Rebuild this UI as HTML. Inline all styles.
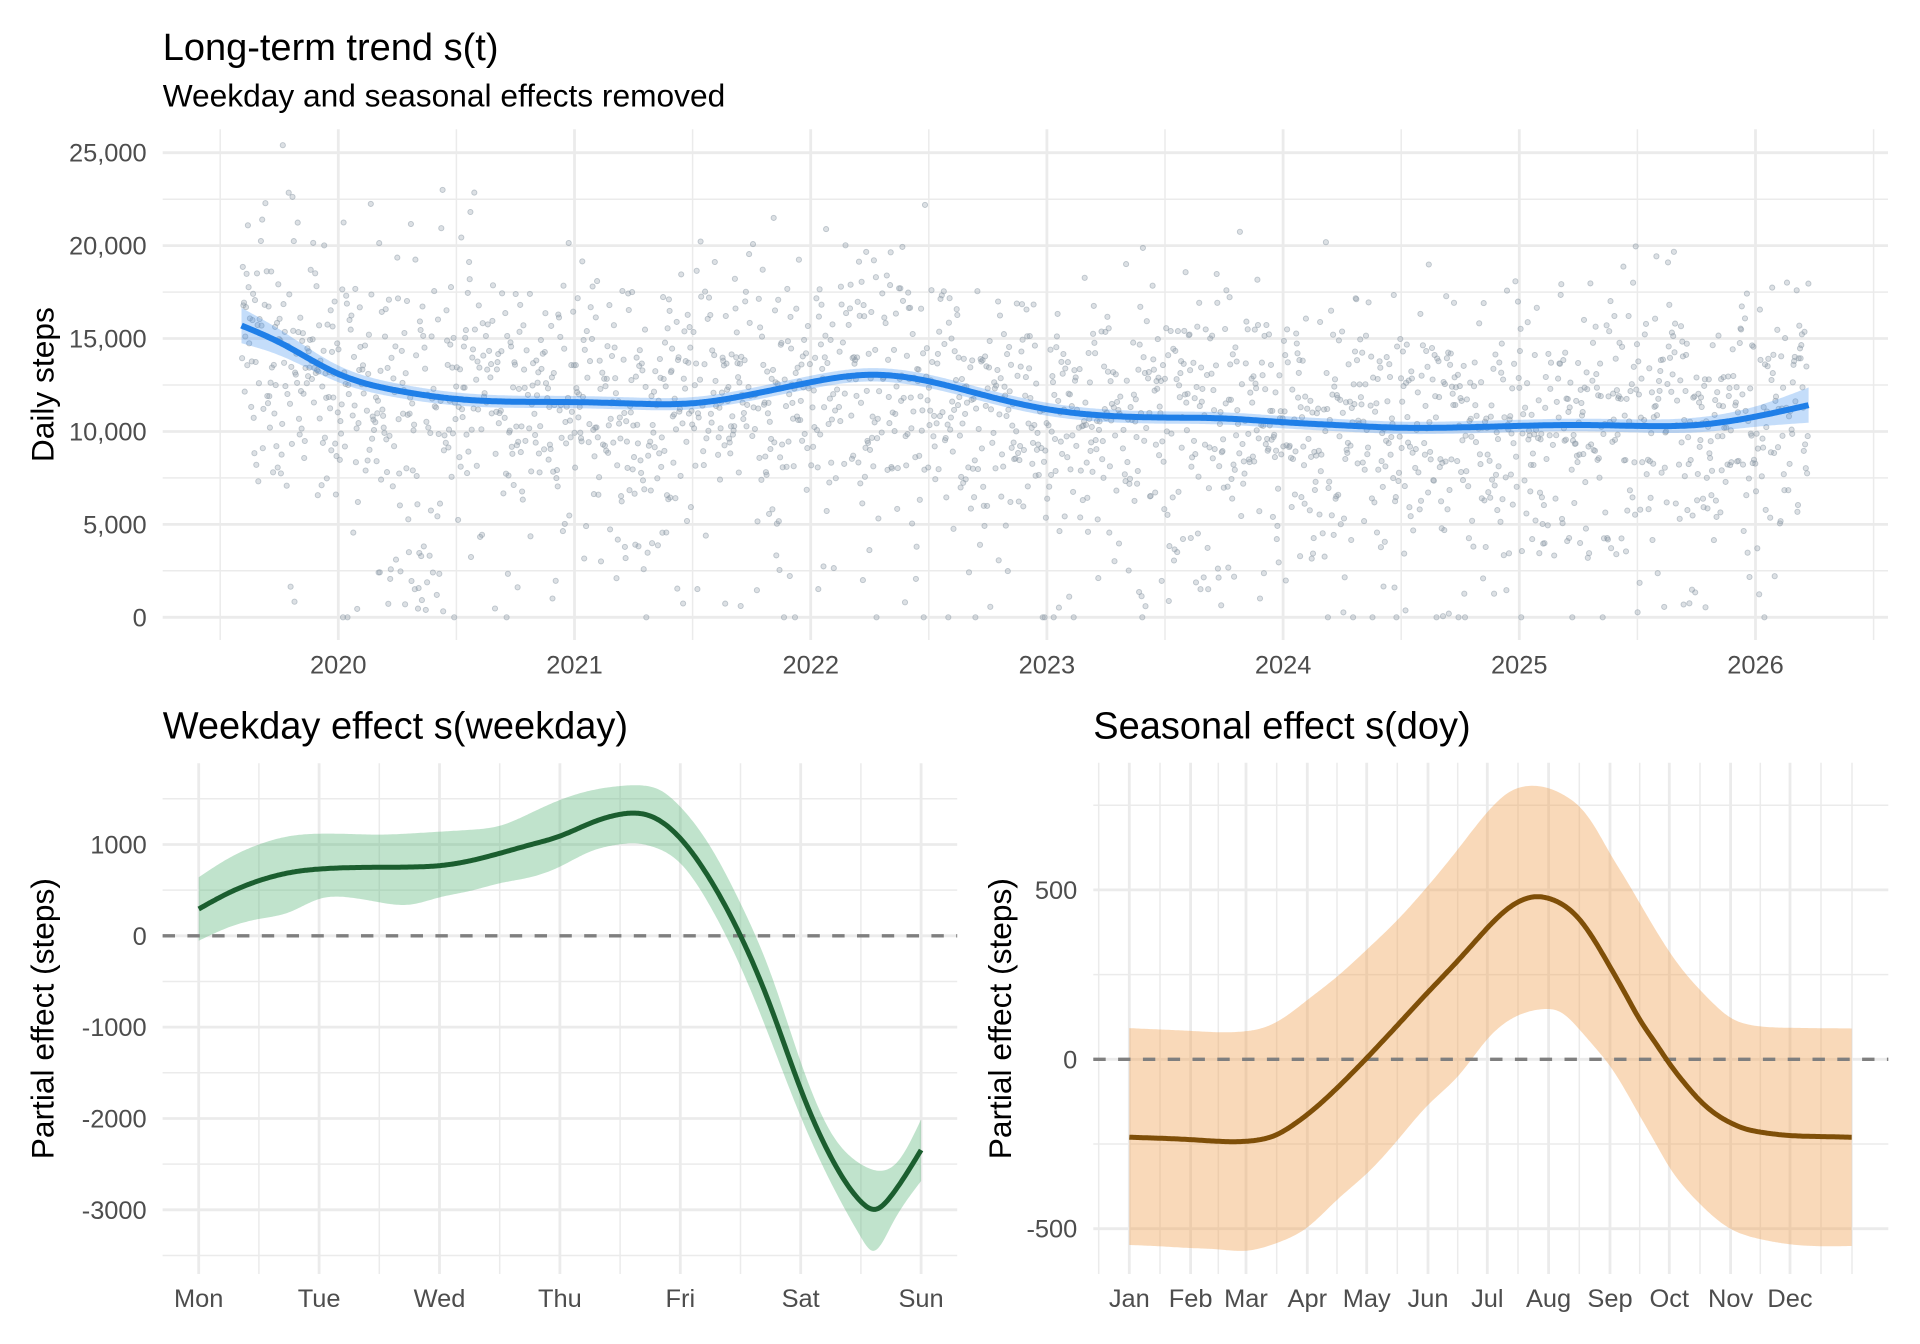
<!DOCTYPE html>
<html>
<head>
<meta charset="utf-8">
<style>
  html,body{margin:0;padding:0;background:#fff;}
  body{width:1920px;height:1344px;overflow:hidden;}
  svg{display:block;font-family:"Liberation Sans",Arial,sans-serif;}
  .gM{stroke:#ebebeb;stroke-width:2.8;fill:none;}
  .gm{stroke:#ebebeb;stroke-width:1.5;fill:none;}
  .tk{font-size:25.4px;fill:#4d4d4d;}
  .ttl{font-size:38px;fill:#000;}
  .sub{font-size:31.7px;fill:#000;}
  .axt{font-size:31.7px;fill:#000;}
</style>
</head>
<body>
<svg id="s" width="1920" height="1344" viewBox="0 0 1920 1344" xmlns="http://www.w3.org/2000/svg">
<rect width="1920" height="1344" fill="#fff"/>

<!-- ================= TOP PANEL ================= -->
<g>
  <line class="gm" x1="162.7" x2="1888" y1="570.8" y2="570.8"/>
  <line class="gm" x1="162.7" x2="1888" y1="477.9" y2="477.9"/>
  <line class="gm" x1="162.7" x2="1888" y1="385.0" y2="385.0"/>
  <line class="gm" x1="162.7" x2="1888" y1="292.1" y2="292.1"/>
  <line class="gm" x1="162.7" x2="1888" y1="199.2" y2="199.2"/>
  <line class="gm" y1="129.3" y2="640" x1="220.2" x2="220.2"/>
  <line class="gm" y1="129.3" y2="640" x1="456.4" x2="456.4"/>
  <line class="gm" y1="129.3" y2="640" x1="692.6" x2="692.6"/>
  <line class="gm" y1="129.3" y2="640" x1="928.8" x2="928.8"/>
  <line class="gm" y1="129.3" y2="640" x1="1165.0" x2="1165.0"/>
  <line class="gm" y1="129.3" y2="640" x1="1401.2" x2="1401.2"/>
  <line class="gm" y1="129.3" y2="640" x1="1637.4" x2="1637.4"/>
  <line class="gm" y1="129.3" y2="640" x1="1873.6" x2="1873.6"/>
  <line class="gM" x1="162.7" x2="1888" y1="617.3" y2="617.3"/>
  <line class="gM" x1="162.7" x2="1888" y1="524.4" y2="524.4"/>
  <line class="gM" x1="162.7" x2="1888" y1="431.5" y2="431.5"/>
  <line class="gM" x1="162.7" x2="1888" y1="338.5" y2="338.5"/>
  <line class="gM" x1="162.7" x2="1888" y1="245.6" y2="245.6"/>
  <line class="gM" x1="162.7" x2="1888" y1="152.7" y2="152.7"/>
  <line class="gM" y1="129.3" y2="640" x1="338.3" x2="338.3"/>
  <line class="gM" y1="129.3" y2="640" x1="574.5" x2="574.5"/>
  <line class="gM" y1="129.3" y2="640" x1="810.7" x2="810.7"/>
  <line class="gM" y1="129.3" y2="640" x1="1046.9" x2="1046.9"/>
  <line class="gM" y1="129.3" y2="640" x1="1283.1" x2="1283.1"/>
  <line class="gM" y1="129.3" y2="640" x1="1519.3" x2="1519.3"/>
  <line class="gM" y1="129.3" y2="640" x1="1755.5" x2="1755.5"/>
</g>
<g id="pts" fill="#8c99a6" fill-opacity="0.3" stroke="#8c99a6" stroke-opacity="0.5" stroke-width="0.9"></g>
<path id="trendRib" fill="#3b8eee" fill-opacity="0.3" stroke="none"/>
<path id="trendLine" fill="none" stroke="#1f7fe8" stroke-width="6"/>

<text class="ttl" x="162.7" y="60">Long-term trend s(t)</text>
<text class="sub" x="162.7" y="106.7">Weekday and seasonal effects removed</text>

<g class="tk" text-anchor="end">
  <text x="146.7" y="161.7">25,000</text>
  <text x="146.7" y="254.6">20,000</text>
  <text x="146.7" y="347.5">15,000</text>
  <text x="146.7" y="440.5">10,000</text>
  <text x="146.7" y="533.4">5,000</text>
  <text x="146.7" y="626.3">0</text>
</g>
<g class="tk" text-anchor="middle">
  <text x="338.3" y="673.3">2020</text>
  <text x="574.5" y="673.3">2021</text>
  <text x="810.7" y="673.3">2022</text>
  <text x="1046.9" y="673.3">2023</text>
  <text x="1283.1" y="673.3">2024</text>
  <text x="1519.3" y="673.3">2025</text>
  <text x="1755.5" y="673.3">2026</text>
</g>
<text class="axt" text-anchor="middle" transform="translate(53.5,384.7) rotate(-90)">Daily steps</text>

<!-- ================= WEEKDAY PANEL ================= -->
<g>
  <line class="gm" x1="162.6" x2="957.2" y1="798.8" y2="798.8"/>
  <line class="gm" x1="162.6" x2="957.2" y1="890.1" y2="890.1"/>
  <line class="gm" x1="162.6" x2="957.2" y1="981.5" y2="981.5"/>
  <line class="gm" x1="162.6" x2="957.2" y1="1072.8" y2="1072.8"/>
  <line class="gm" x1="162.6" x2="957.2" y1="1164.1" y2="1164.1"/>
  <line class="gm" x1="162.6" x2="957.2" y1="1255.5" y2="1255.5"/>
  <line class="gm" y1="763.3" y2="1274" x1="258.9" x2="258.9"/>
  <line class="gm" y1="763.3" y2="1274" x1="379.3" x2="379.3"/>
  <line class="gm" y1="763.3" y2="1274" x1="499.7" x2="499.7"/>
  <line class="gm" y1="763.3" y2="1274" x1="620.1" x2="620.1"/>
  <line class="gm" y1="763.3" y2="1274" x1="740.5" x2="740.5"/>
  <line class="gm" y1="763.3" y2="1274" x1="860.9" x2="860.9"/>
  <line class="gM" x1="162.6" x2="957.2" y1="844.5" y2="844.5"/>
  <line class="gM" x1="162.6" x2="957.2" y1="935.8" y2="935.8"/>
  <line class="gM" x1="162.6" x2="957.2" y1="1027.1" y2="1027.1"/>
  <line class="gM" x1="162.6" x2="957.2" y1="1118.5" y2="1118.5"/>
  <line class="gM" x1="162.6" x2="957.2" y1="1209.8" y2="1209.8"/>
  <line class="gM" y1="763.3" y2="1274" x1="198.7" x2="198.7"/>
  <line class="gM" y1="763.3" y2="1274" x1="319.1" x2="319.1"/>
  <line class="gM" y1="763.3" y2="1274" x1="439.5" x2="439.5"/>
  <line class="gM" y1="763.3" y2="1274" x1="559.9" x2="559.9"/>
  <line class="gM" y1="763.3" y2="1274" x1="680.3" x2="680.3"/>
  <line class="gM" y1="763.3" y2="1274" x1="800.7" x2="800.7"/>
  <line class="gM" y1="763.3" y2="1274" x1="921.1" x2="921.1"/>
</g>
<path id="wkRib" fill="#4baf6d" fill-opacity="0.35" stroke="none"/>
<line x1="162.6" x2="957.2" y1="935.8" y2="935.8" stroke="#7f7f7f" stroke-width="3.3" stroke-dasharray="12.4 12.4"/>
<path id="wkLine" fill="none" stroke="#1b5e2f" stroke-width="5"/>

<text class="ttl" x="162.7" y="738.3">Weekday effect s(weekday)</text>
<g class="tk" text-anchor="end">
  <text x="146.7" y="853.5">1000</text>
  <text x="146.7" y="944.8">0</text>
  <text x="146.7" y="1036.1">-1000</text>
  <text x="146.7" y="1127.5">-2000</text>
  <text x="146.7" y="1218.8">-3000</text>
</g>
<g class="tk" text-anchor="middle">
  <text x="198.7" y="1307">Mon</text>
  <text x="319.1" y="1307">Tue</text>
  <text x="439.5" y="1307">Wed</text>
  <text x="559.9" y="1307">Thu</text>
  <text x="680.3" y="1307">Fri</text>
  <text x="800.7" y="1307">Sat</text>
  <text x="921.1" y="1307">Sun</text>
</g>
<text class="axt" text-anchor="middle" transform="translate(53.5,1018.7) rotate(-90)">Partial effect (steps)</text>

<!-- ================= SEASONAL PANEL ================= -->
<g>
  <line class="gm" x1="1093.3" x2="1888.3" y1="805.2" y2="805.2"/>
  <line class="gm" x1="1093.3" x2="1888.3" y1="974.6" y2="974.6"/>
  <line class="gm" x1="1093.3" x2="1888.3" y1="1144.0" y2="1144.0"/>
  <line class="gm" y1="762.7" y2="1274" x1="1098.7" x2="1098.7"/>
  <line class="gm" y1="762.7" y2="1274" x1="1160.0" x2="1160.0"/>
  <line class="gm" y1="762.7" y2="1274" x1="1218.3" x2="1218.3"/>
  <line class="gm" y1="762.7" y2="1274" x1="1276.7" x2="1276.7"/>
  <line class="gm" y1="762.7" y2="1274" x1="1337.0" x2="1337.0"/>
  <line class="gm" y1="762.7" y2="1274" x1="1397.3" x2="1397.3"/>
  <line class="gm" y1="762.7" y2="1274" x1="1457.7" x2="1457.7"/>
  <line class="gm" y1="762.7" y2="1274" x1="1518.0" x2="1518.0"/>
  <line class="gm" y1="762.7" y2="1274" x1="1579.3" x2="1579.3"/>
  <line class="gm" y1="762.7" y2="1274" x1="1639.7" x2="1639.7"/>
  <line class="gm" y1="762.7" y2="1274" x1="1700.0" x2="1700.0"/>
  <line class="gm" y1="762.7" y2="1274" x1="1760.3" x2="1760.3"/>
  <line class="gm" y1="762.7" y2="1274" x1="1821.0" x2="1821.0"/>
  <line class="gm" y1="762.7" y2="1274" x1="1852.0" x2="1852.0"/>
  <line class="gM" x1="1093.3" x2="1888.3" y1="889.9" y2="889.9"/>
  <line class="gM" x1="1093.3" x2="1888.3" y1="1059.3" y2="1059.3"/>
  <line class="gM" x1="1093.3" x2="1888.3" y1="1228.7" y2="1228.7"/>
  <line class="gM" y1="762.7" y2="1274" x1="1129.3" x2="1129.3"/>
  <line class="gM" y1="762.7" y2="1274" x1="1190.6" x2="1190.6"/>
  <line class="gM" y1="762.7" y2="1274" x1="1246.0" x2="1246.0"/>
  <line class="gM" y1="762.7" y2="1274" x1="1307.3" x2="1307.3"/>
  <line class="gM" y1="762.7" y2="1274" x1="1366.7" x2="1366.7"/>
  <line class="gM" y1="762.7" y2="1274" x1="1428.0" x2="1428.0"/>
  <line class="gM" y1="762.7" y2="1274" x1="1487.3" x2="1487.3"/>
  <line class="gM" y1="762.7" y2="1274" x1="1548.6" x2="1548.6"/>
  <line class="gM" y1="762.7" y2="1274" x1="1610.0" x2="1610.0"/>
  <line class="gM" y1="762.7" y2="1274" x1="1669.3" x2="1669.3"/>
  <line class="gM" y1="762.7" y2="1274" x1="1730.6" x2="1730.6"/>
  <line class="gM" y1="762.7" y2="1274" x1="1790.0" x2="1790.0"/>
</g>
<path id="seRib" fill="#f0a050" fill-opacity="0.4" stroke="none"/>
<line x1="1093.3" x2="1888.3" y1="1059.3" y2="1059.3" stroke="#7f7f7f" stroke-width="3.3" stroke-dasharray="12.4 12.4"/>
<path id="seLine" fill="none" stroke="#7f4f08" stroke-width="5"/>

<text class="ttl" x="1093.3" y="738.3">Seasonal effect s(doy)</text>
<g class="tk" text-anchor="end">
  <text x="1077.3" y="898.9">500</text>
  <text x="1077.3" y="1068.3">0</text>
  <text x="1077.3" y="1237.7">-500</text>
</g>
<g class="tk" text-anchor="middle">
  <text x="1129.3" y="1307">Jan</text>
  <text x="1190.6" y="1307">Feb</text>
  <text x="1246.0" y="1307">Mar</text>
  <text x="1307.3" y="1307">Apr</text>
  <text x="1366.7" y="1307">May</text>
  <text x="1428.0" y="1307">Jun</text>
  <text x="1487.3" y="1307">Jul</text>
  <text x="1548.6" y="1307">Aug</text>
  <text x="1610.0" y="1307">Sep</text>
  <text x="1669.3" y="1307">Oct</text>
  <text x="1730.6" y="1307">Nov</text>
  <text x="1790.0" y="1307">Dec</text>
</g>
<text class="axt" text-anchor="middle" transform="translate(1011,1018.7) rotate(-90)">Partial effect (steps)</text>
</svg>

<script>
(function(){
  function f(n){return Math.round(n*10)/10;}
  // natural cubic spline through pixel points, returns sampled array
  function spl(p,step){
    var n=p.length,xs=p.map(function(q){return q[0];}),ys=p.map(function(q){return q[1];});
    var h=[],al=[],l=[],mu=[],z=[],c=[],b=[],d=[],i,j;
    for(i=0;i<n-1;i++)h[i]=xs[i+1]-xs[i];
    for(i=1;i<n-1;i++)al[i]=3/h[i]*(ys[i+1]-ys[i])-3/h[i-1]*(ys[i]-ys[i-1]);
    l[0]=1;mu[0]=0;z[0]=0;
    for(i=1;i<n-1;i++){l[i]=2*(xs[i+1]-xs[i-1])-h[i-1]*mu[i-1];mu[i]=h[i]/l[i];z[i]=(al[i]-h[i-1]*z[i-1])/l[i];}
    l[n-1]=1;z[n-1]=0;c[n-1]=0;
    for(j=n-2;j>=0;j--){c[j]=z[j]-mu[j]*c[j+1];b[j]=(ys[j+1]-ys[j])/h[j]-h[j]*(c[j+1]+2*c[j])/3;d[j]=(c[j+1]-c[j])/(3*h[j]);}
    var out=[],k=0;
    for(var x=xs[0];x<xs[n-1];x+=step){
      while(k<n-2&&x>xs[k+1])k++;
      var dx=x-xs[k];out.push([x,ys[k]+b[k]*dx+c[k]*dx*dx+d[k]*dx*dx*dx]);
    }
    out.push([xs[n-1],ys[n-1]]);
    return out;
  }
  function pl(a){var s='M'+f(a[0][0])+','+f(a[0][1]);for(var i=1;i<a.length;i++)s+='L'+f(a[i][0])+','+f(a[i][1]);return s;}
  function line(p){return pl(spl(p,1.5));}
  function rib(u,lo){
    var a=spl(u,1.5),b=spl(lo,1.5).reverse();
    return pl(a.concat(b))+'Z';
  }
  function setD(id,d){document.getElementById(id).setAttribute('d',d);}

  // ---------- TOP ----------
  function XT(t){return 338.3+(t-2020)*236.2;}
  function YT(v){return 617.3-v*0.018583;}
  var tr=[[2019.59,15700,950],[2019.75,14800,700],[2020.0,13100,450],[2020.25,12200,380],[2020.5,11750,350],
          [2020.75,11600,330],[2021.0,11580,330],[2021.25,11500,330],[2021.5,11520,330],[2021.75,12000,340],
          [2022.0,12650,350],[2022.25,13050,360],[2022.5,12700,360],[2022.75,11900,350],[2023.0,11200,350],
          [2023.25,10850,340],[2023.5,10750,330],[2023.75,10700,330],[2024.0,10500,330],[2024.25,10330,330],
          [2024.5,10200,330],[2024.75,10220,330],[2025.0,10300,330],[2025.25,10350,340],[2025.5,10300,350],
          [2025.75,10350,400],[2026.0,10800,550],[2026.225,11420,950]];
  var tl=[],tu=[],tlo=[];
  tr.forEach(function(r){tl.push([XT(r[0]),YT(r[1])]);tu.push([XT(r[0]),YT(r[1]+r[2])]);tlo.push([XT(r[0]),YT(r[1]-r[2])]);});
  setD('trendLine',line(tl));
  setD('trendRib',rib(tu,tlo));

  function interp(t){
    if(t<=tr[0][0])return tr[0][1];
    for(var i=0;i<tr.length-1;i++){
      if(t<=tr[i+1][0]){var a=(t-tr[i][0])/(tr[i+1][0]-tr[i][0]);return tr[i][1]+a*(tr[i+1][1]-tr[i][1]);}
    }
    return tr[tr.length-1][1];
  }
  var s=987654321;
  function R(){s=(s*1664525+1013904223)>>>0;return s/4294967296;}
  function G(){var u=R()||1e-9,v=R();return Math.sqrt(-2*Math.log(u))*Math.cos(2*Math.PI*v);}
  var wk=[293,731,768,1104,1159,-1750,-2345];
  var h='';
  for(var i=0;;i++){
    var t=2019.59+i/365.25;
    if(t>2026.225)break;
    if(R()<0.1)continue;
    var doy=((t%1)*365);
    var se=-230+710*Math.max(0,Math.sin(Math.PI*(doy-120)/180))*(doy>120&&doy<300?1:0);
    var v=interp(t)+wk[i%7]*0.9+se*0.6+G()*3300;
    var r=R();
    if(t>2020.15&&t<2020.45&&r<0.3)v=300+R()*3800;
    else if(r<0.012)v=0;
    else if(r<0.04)v=R()*4500;
    if(v<0)v=(R()<0.5)?0:R()*1500;
    if(v>26200)v=26200-R()*2500;
    h+='<circle cx="'+f(XT(t))+'" cy="'+f(YT(v))+'" r="2.6"/>';
  }
  document.getElementById('pts').innerHTML=h;

  // ---------- WEEKDAY ----------
  function XW(d){return 198.7+(d-1)*120.4;}
  function YW(v){return 935.8-v*0.09133;}
  var wl=[[1,293],[1.25,470],[1.5,603],[1.75,690],[2,731],[2.25,746],[2.5,750],[2.75,753],[3,768],[3.25,820],
          [3.5,903],[3.75,995],[4,1092],[4.25,1231],[4.5,1330],[4.75,1312],[5,1067],[5.25,611],
          [5.5,0],[5.75,-776],[6,-1680],[6.25,-2420],[6.5,-2910],[6.62,-2995],[6.75,-2850],[7,-2345]];
  var wu=[[1,640],[1.25,850],[1.5,1000],[1.75,1090],[2,1118],[2.25,1115],[2.5,1108],[2.75,1120],[3,1140],
          [3.25,1160],[3.5,1205],[3.75,1340],[4,1487],[4.25,1589],[4.5,1640],[4.67,1647],[4.83,1596],[5,1413],
          [5.25,975],[5.5,356],[5.75,-410],[6,-1380],[6.25,-2150],[6.5,-2500],[6.65,-2573],[6.8,-2480],[7,-2010]];
  var wlo=[[1,-54],[1.25,93],[1.5,184],[1.75,257],[2,403],[2.25,420],[2.5,367],[2.75,341],[3,421],[3.25,490],
          [3.5,575],[3.75,640],[4,757],[4.25,921],[4.5,1002],[4.625,1013],[4.75,983],[5,794],[5.25,319],
          [5.5,-338],[5.75,-1141],[6,-1980],[6.25,-2700],[6.5,-3300],[6.6,-3450],[6.75,-3180],[7,-2685]];
  function mw(a){return a.map(function(p){return [XW(p[0]),YW(p[1])];});}
  setD('wkLine',line(mw(wl)));
  setD('wkRib',rib(mw(wu),mw(wlo)));

  // ---------- SEASONAL ----------
  function YS(v){return 1059.3-v*0.3388;}
  var sl=[[1129.3,-230],[1160,-233],[1190,-237],[1218,-242],[1246,-242],[1262,-236],[1277,-222],[1292,-196],
          [1307.3,-163],[1337,-85],[1366.5,3],[1397.3,100],[1428,198],[1460,298],[1487.5,388],[1505,438],
          [1520,467],[1536.7,480],[1548.6,475],[1565,452],[1580,411],[1595,348],[1610,273],[1625,195],
          [1640,116],[1655,50],[1669.3,-12],[1685,-72],[1700,-122],[1715,-160],[1731,-188],[1745,-205],
          [1760.7,-215],[1790,-225],[1820,-228],[1851.7,-230]];
  var su=[[1129.3,92],[1160,88],[1190,84],[1218,80],[1246,83],[1262,92],[1277,111],[1292,140],[1307.3,175],
          [1337,244],[1366.5,323],[1397.3,411],[1428,512],[1460,628],[1487.5,730],[1510,790],[1530,807],
          [1548.6,800],[1565,778],[1580,744],[1595,685],[1610,608],[1625,535],[1640,460],[1655,385],
          [1669.3,318],[1685,255],[1700,205],[1715,160],[1731,122],[1745,105],[1760.7,97],[1790,93],[1851.7,91]];
  var slo=[[1129.3,-548],[1160,-552],[1190,-557],[1218,-561],[1246,-565],[1277,-542],[1307.3,-496],
          [1337,-415],[1366.5,-338],[1400,-230],[1428,-135],[1460,-43],[1487.5,60],[1515,125],[1543,148],
          [1560,140],[1580,86],[1595,35],[1610,-20],[1625,-90],[1640,-168],[1655,-245],[1669.3,-318],
          [1685,-380],[1700,-427],[1715,-468],[1731,-501],[1760.7,-531],[1790,-546],[1851.7,-551]];
  function ms(a){return a.map(function(p){return [p[0],YS(p[1])];});}
  setD('seLine',line(ms(sl)));
  setD('seRib',rib(ms(su),ms(slo)));
})();
</script>
</body>
</html>
